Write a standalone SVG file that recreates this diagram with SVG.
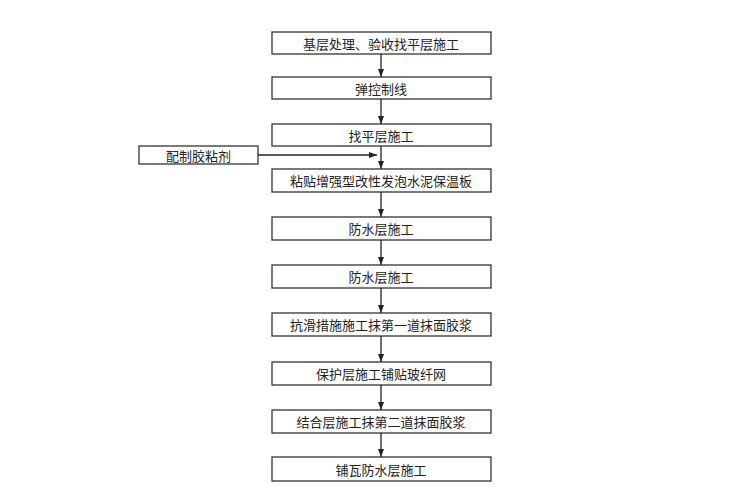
<svg xmlns="http://www.w3.org/2000/svg" width="737" height="496" viewBox="0 0 737 496">
<defs><marker id="a" markerWidth="8" markerHeight="6" refX="8" refY="3" orient="auto" markerUnits="userSpaceOnUse"><path d="M0,0 L8,3 L0,6 Z" fill="#222"/></marker></defs>
<style>rect{fill:#fff;stroke:#333;stroke-width:1.3}text{font-family:"Noto Sans CJK SC",sans-serif;font-size:13px;fill:#222;text-anchor:middle;dominant-baseline:central}line{stroke:#222;stroke-width:1.3}</style>
<rect width="737" height="496" style="stroke:none"/>
<g id="n1"><rect x="272" y="32" width="219" height="22"/><text x="381" y="43">基层处理、验收找平层施工</text></g>
<g id="n2"><rect x="272" y="77" width="219" height="22"/><text x="381" y="88">弹控制线</text></g>
<g id="n3"><rect x="272" y="124" width="219" height="22"/><text x="381" y="135">找平层施工</text></g>
<g id="side"><rect x="139" y="146" width="119" height="18"/><text x="198.5" y="155">配制胶粘剂</text></g>
<g id="n4"><rect x="272" y="169" width="219" height="23"/><text x="381" y="180.5">粘贴增强型改性发泡水泥保温板</text></g>
<g id="n5"><rect x="272" y="217" width="219" height="23"/><text x="381" y="228.5">防水层施工</text></g>
<g id="n6"><rect x="272" y="265" width="219" height="23"/><text x="381" y="276.5">防水层施工</text></g>
<g id="n7"><rect x="272" y="313" width="219" height="23"/><text x="381" y="324.5">抗滑措施施工抹第一道抹面胶浆</text></g>
<g id="n8"><rect x="272" y="362" width="219" height="23"/><text x="381" y="373.5">保护层施工铺贴玻纤网</text></g>
<g id="n9"><rect x="272" y="410" width="219" height="23"/><text x="381" y="421.5">结合层施工抹第二道抹面胶浆</text></g>
<g id="n10"><rect x="272" y="457" width="219" height="24"/><text x="381" y="469">铺瓦防水层施工</text></g>
<g id="connectors" marker-end="url(#a)">
<line x1="381" y1="54" x2="381" y2="77"/>
<line x1="381" y1="99" x2="381" y2="124"/>
<line x1="381" y1="146" x2="381" y2="169"/>
<line x1="258" y1="155" x2="377" y2="155"/>
<line x1="381" y1="192" x2="381" y2="217"/>
<line x1="381" y1="240" x2="381" y2="265"/>
<line x1="381" y1="288" x2="381" y2="313"/>
<line x1="381" y1="336" x2="381" y2="362"/>
<line x1="381" y1="385" x2="381" y2="410"/>
<line x1="381" y1="433" x2="381" y2="457"/>
</g>
</svg>
